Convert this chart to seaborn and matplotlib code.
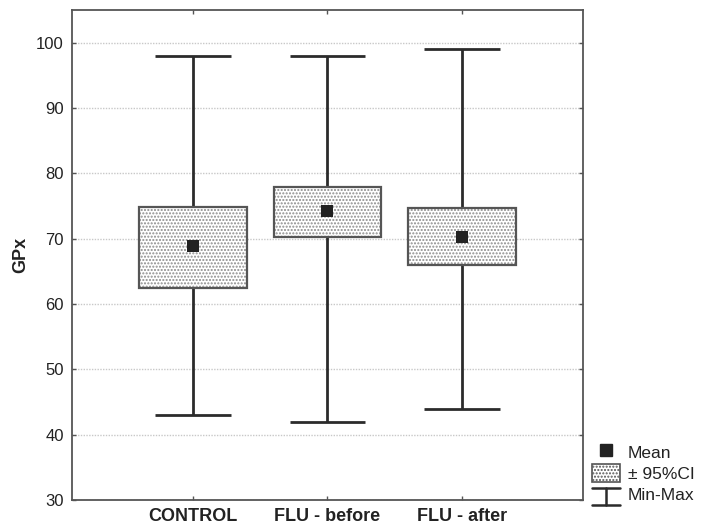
import numpy as np
import pandas as pd
import matplotlib
matplotlib.use("Agg")
import matplotlib.pyplot as plt
import seaborn as sns
from matplotlib.lines import Line2D
from matplotlib.patches import Rectangle
from matplotlib.legend_handler import HandlerBase

groups = ["CONTROL", "FLU - before", "FLU - after"]
means = [68.8, 74.3, 70.3]
ci_low = [62.4, 70.3, 65.9]
ci_high = [74.8, 77.9, 74.7]
mins = [43.0, 42.0, 44.0]
maxs = [98.0, 98.0, 99.0]
yticks = [30, 40, 50, 60, 70, 80, 90, 100]

df = pd.DataFrame({"group": groups, "mean": means, "lo": ci_low, "hi": ci_high,
                   "min": mins, "max": maxs})

sns.set_theme(style="white")
plt.rcParams["font.family"] = ["Liberation Sans", "DejaVu Sans"]
plt.rcParams["hatch.color"] = "#8c8c8c"
plt.rcParams["hatch.linewidth"] = 1.0

fig = plt.figure(figsize=(7.07, 5.31), dpi=100)
ax = fig.add_axes([0.1018, 0.0584, 0.7228, 0.9228])

line_col = "#2b2b2b"
box_col = "#555555"
pos = np.arange(len(groups))
box_w = 0.8
cap_w = 0.56

# whiskers (min-max)
ax.vlines(pos, df["min"], df["max"], color=line_col, lw=2, zorder=2)
ax.hlines(df["min"], pos - cap_w / 2, pos + cap_w / 2, color=line_col, lw=2, zorder=2)
ax.hlines(df["max"], pos - cap_w / 2, pos + cap_w / 2, color=line_col, lw=2, zorder=2)

# CI boxes
ax.bar(pos, df["hi"] - df["lo"], bottom=df["lo"], width=box_w, facecolor="white",
       edgecolor="#8c8c8c", hatch=".....", linewidth=0, zorder=3)
ax.bar(pos, df["hi"] - df["lo"], bottom=df["lo"], width=box_w, facecolor="none",
       edgecolor=box_col, linewidth=1.6, zorder=4)

# means
sns.scatterplot(data=df, x=pos, y="mean", marker="s", s=66, color="#222222",
                edgecolor="#222222", linewidth=0, ax=ax, zorder=5, legend=False)

ax.set_xlim(-0.9, 2.9)
ax.set_ylim(30, 105)
ax.set_yticks(yticks)
ax.set_yticklabels([str(t) for t in yticks], fontsize=12, color="#222222")
ax.set_xticks(pos)
ax.set_xticklabels(groups, fontsize=13, fontweight="bold", color="#222222")
ax.set_xlabel("")
ax.set_ylabel("GPx", fontsize=13, fontweight="bold", color="#222222", labelpad=5)

ax.yaxis.grid(True, linestyle=(0, (1, 1)), color="#c8c8c8", lw=1)
ax.set_axisbelow(True)
for s in ax.spines.values():
    s.set_color("#555555")
    s.set_linewidth(1.3)
    s.set_visible(True)
ax.tick_params(axis="both", which="both", direction="in", length=3, width=1,
               color="#555555", top=True, right=True, left=True, bottom=True, pad=6)


class MinMaxHandler(HandlerBase):
    def create_artists(self, legend, orig_handle, xdescent, ydescent, width, height,
                       fontsize, trans):
        x0, x1 = -xdescent, -xdescent + width
        xm = (x0 + x1) / 2
        y0 = -ydescent - height * 0.1
        y1 = -ydescent + height * 0.85
        arts = [Line2D([x0, x1], [y0, y0]), Line2D([x0, x1], [y1, y1]),
                Line2D([xm, xm], [y0, y1])]
        for a in arts:
            a.set_color(line_col)
            a.set_linewidth(1.8)
            a.set_transform(trans)
        return arts


h_mean = Line2D([], [], marker="s", linestyle="none", markersize=8, color="#222222")
h_ci = Rectangle((0, 0), 1, 1, facecolor="white", edgecolor=box_col, hatch=".....", lw=1.2)
h_mm = Line2D([], [])
fig.legend([h_mean, h_ci, h_mm], ["Mean", "± 95%CI", "Min-Max"],
           handler_map={h_mm: MinMaxHandler()},
           loc="upper left", bbox_to_anchor=(0.838, 0.166), frameon=False,
           fontsize=12.5, handlelength=1.6, handleheight=1.2, handletextpad=0.45,
           labelspacing=0.2, borderaxespad=0, borderpad=0, labelcolor="#222222")

fig.savefig("out.png", dpi=100)
